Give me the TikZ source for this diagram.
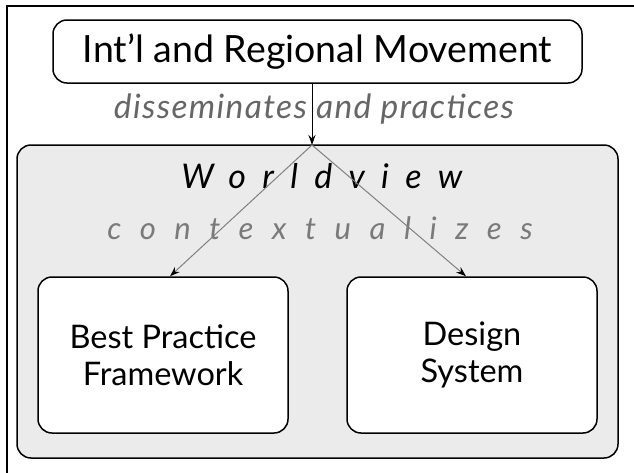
\documentclass[tikz,border=0pt]{standalone}
\usepackage{fontspec}
\setmainfont{Lato}
\usetikzlibrary{arrows.meta}
\definecolor{panelgray}{HTML}{EBEBEB}
\definecolor{labelgray}{HTML}{666666}
\definecolor{softgray}{HTML}{7A7A7A}
\begin{document}
\begin{tikzpicture}[x=1pt,y=-1pt,
    box/.style={draw=black, line width=1.5pt, rounded corners=14pt, fill=white, align=center, inner sep=0pt},
    link/.style={-{Stealth[length=10pt,width=7pt,black]}, line width=1pt}]
  \useasboundingbox (0,0) rectangle (634,472);
  % frame, cut at the right and bottom
  \draw[line width=2pt] (6.5,480) -- (6.5,6) -- (640,6);
  \node[box, minimum width=529pt, minimum height=63pt, font=\fontsize{37.5}{42}\selectfont] (mov) at (317.5,51.5) {Int’l and Regional Movement};
  \node[font=\fontsize{33.5}{38}\selectfont\itshape\addfontfeatures{LetterSpace=4}, text=labelgray] (diss) at (314,109) {disseminates and practices};
  \node[box, fill=panelgray, minimum width=601pt, minimum height=313pt] (wv) at (317.5,301.5) {};
  \node[font=\fontsize{34}{38}\selectfont\itshape\addfontfeatures{LetterSpace=48}] (view) at (322,176) {Worldview};
  \node[font=\fontsize{31}{36}\selectfont\itshape\addfontfeatures{LetterSpace=60}, text=softgray] (ctx) at (320,228) {contextualizes};
  \node[box, minimum width=250pt, minimum height=156pt, font=\fontsize{32.5}{37}\selectfont] (bp) at (163,355) {Best Practice\\Framework};
  \node[box, minimum width=250pt, minimum height=156pt, font=\fontsize{32.5}{37}\selectfont] (ds) at (472,355) {Design\\System};
  \coordinate (split) at (312,145);
  \draw[link] (mov.south -| split) -- (split);
  \draw[link, draw=gray] (split) -- ([xshift=7pt]bp.north);
  \draw[link, draw=gray] (split) -- ([xshift=-6pt]ds.north);
\end{tikzpicture}
\end{document}
